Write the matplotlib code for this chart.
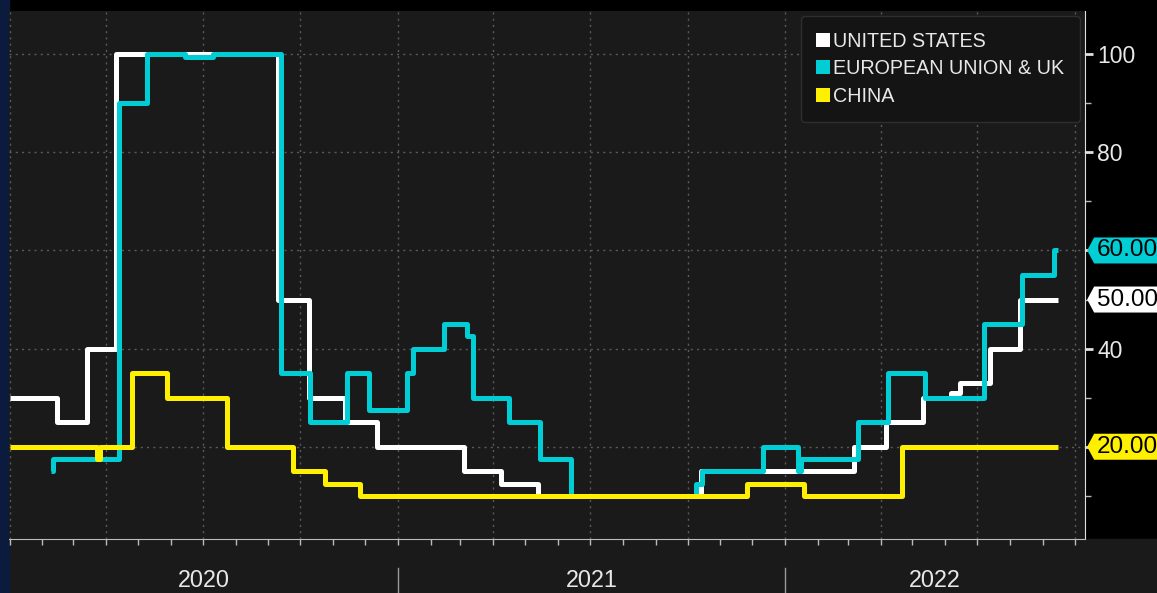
import pandas as pd
import matplotlib
matplotlib.use("Agg")
import matplotlib.pyplot as plt
import matplotlib.dates as mdates
import matplotlib.transforms as mtransforms
from matplotlib.patches import Rectangle, Polygon
from matplotlib.lines import Line2D

# step series (value holds until the next date)
us_dates = ['2020-01-01', '2020-02-15', '2020-03-14', '2020-04-10', '2020-09-10',
            '2020-10-09', '2020-11-12', '2020-12-12', '2021-03-04', '2021-04-08',
            '2021-05-13', '2021-10-14', '2022-03-07', '2022-04-06', '2022-05-11',
            '2022-06-06', '2022-06-15', '2022-07-13', '2022-08-10', '2022-09-15']
us_values = [30, 25, 40, 100, 50, 30, 25, 20, 15, 12.5, 10, 15, 20, 25, 30, 31, 33, 40, 50, 50]

eu_dates = ['2020-02-09', '2020-02-11', '2020-04-13', '2020-05-10', '2020-06-14',
            '2020-07-11', '2020-09-13', '2020-10-10', '2020-11-14', '2020-12-05',
            '2021-01-10', '2021-01-15', '2021-02-13', '2021-03-07', '2021-03-13',
            '2021-04-16', '2021-05-15', '2021-06-13', '2021-10-09', '2021-10-15',
            '2021-12-11', '2022-01-13', '2022-01-16', '2022-03-11', '2022-04-08',
            '2022-05-13', '2022-07-07', '2022-08-12', '2022-09-11', '2022-09-15']
eu_values = [15, 17.5, 90, 100, 99.5, 100, 35, 25, 35, 27.5, 35, 40, 45, 42.5, 30,
             25, 17.5, 10, 12.5, 15, 20, 15, 17.5, 25, 35, 30, 45, 55, 60, 60]

cn_dates = ['2020-01-01', '2020-03-23', '2020-03-26', '2020-04-25', '2020-05-28',
            '2020-07-24', '2020-09-24', '2020-10-24', '2020-11-26', '2021-11-26',
            '2022-01-19', '2022-04-21', '2022-09-15']
cn_values = [20, 17.5, 20, 35, 30, 20, 15, 12.5, 10, 12.5, 10, 20, 20]

series_names = ['UNITED STATES', 'EUROPEAN UNION & UK', 'CHINA']
series_colors = ['#ffffff', '#00cdd4', '#fff000']
last_labels = ['50.00', '60.00', '20.00']
year_labels = ['2020', '2021', '2022']

W, H = 1157, 593
BG = '#1a1a1a'
TXT = '#e8e8e8'
FONT = ['Liberation Sans', 'DejaVu Sans']

fig = plt.figure(figsize=(W / 100, H / 100), dpi=100, facecolor='black')
# bottom band and left navy strip
fig.patches.append(Rectangle((9 / W, 0), 1, 54 / H, transform=fig.transFigure,
                             color=BG, zorder=-2))
fig.patches.append(Rectangle((0, 0), 9 / W, 1, transform=fig.transFigure,
                             color='#0b1b3e', zorder=-2))

ax = fig.add_axes([9 / W, 54 / H, 1076 / W, 528 / H])
ax.set_facecolor(BG)

all_series = [(us_dates, us_values), (eu_dates, eu_values), (cn_dates, cn_values)]
for (d, v), c in zip(all_series, series_colors):
    ax.plot(pd.to_datetime(d), v, drawstyle='steps-post', color=c, lw=3.6,
            solid_joinstyle='round', solid_capstyle='butt', zorder=3)

ax.set_xlim(pd.Timestamp('2019-12-31 12:00'), pd.Timestamp('2022-10-10 14:00'))
ax.set_ylim(1.2, 108.8)

ax.xaxis.set_major_locator(mdates.MonthLocator(bymonth=[1, 4, 7, 10]))
ax.xaxis.set_minor_locator(mdates.MonthLocator())
ax.xaxis.set_major_formatter(plt.NullFormatter())
ax.tick_params(axis='x', which='both', direction='out', length=4, width=1,
               color='#bbbbbb')

ax.yaxis.tick_right()
ax.set_yticks([20, 40, 60, 80, 100])
ax.set_yticklabels(['', '40', '', '80', '100'])
ax.set_yticks([10, 30, 50, 70, 90], minor=True)
ax.tick_params(axis='y', which='major', direction='out', length=6, width=2,
               color='#e0e0e0', labelcolor=TXT, labelsize=16.5, pad=3)
ax.tick_params(axis='y', which='minor', direction='out', length=4, width=1,
               color='#bbbbbb')
for lab in ax.get_yticklabels():
    lab.set_family(FONT)

ax.grid(True, which='major', color='#5a5a5a', ls=(0, (1.5, 3)), lw=1)

for side in ['top', 'left']:
    ax.spines[side].set_visible(False)
ax.spines['bottom'].set_color('#bbbbbb')
ax.spines['right'].set_color('#e0e0e0')

# year labels centred in the visible part of each year
x0, x1 = ax.get_xlim()
bounds = [x0, mdates.date2num(pd.Timestamp('2021-01-01')),
          mdates.date2num(pd.Timestamp('2022-01-01')), x1]
xt = mtransforms.blended_transform_factory(ax.transData, ax.transAxes)
for i, lab in enumerate(year_labels):
    ax.text((bounds[i] + bounds[i + 1]) / 2, -0.0909, lab, transform=xt,
            ha='center', va='baseline', fontsize=16.8, color=TXT, family=FONT,
            clip_on=False)
for b in bounds[1:3]:
    ax.plot([b, b], [-0.055, -0.11], transform=xt, color='#9a9a9a', lw=1,
            clip_on=False)

# last value tags on the right axis
yt = mtransforms.blended_transform_factory(ax.transAxes, ax.transData)
last_vals = [us_values[-1], eu_values[-1], cn_values[-1]]
hh = 13 / 4.905
for v, c, lab in zip(last_vals, series_colors, last_labels):
    poly = Polygon([(1.002, v), (1.0085, v + hh), (1.2, v + hh), (1.2, v - hh),
                    (1.0085, v - hh)], closed=True, transform=yt, facecolor=c,
                   edgecolor='none', clip_on=False, zorder=6)
    ax.add_patch(poly)
    ax.text(1.0112, v, lab, transform=yt, ha='left', va='center', fontsize=17.5,
            color='black', family=FONT, clip_on=False, zorder=7)

handles = [Line2D([], [], marker='s', ls='none', markersize=9.5, color=c,
                  markeredgewidth=0) for c in series_colors]
leg = ax.legend(handles, series_names, loc='upper right',
                bbox_to_anchor=(0.9954, 0.991), frameon=True, fancybox=True,
                borderaxespad=0, borderpad=0.8, handlelength=0.65,
                handletextpad=0.2, labelspacing=0.44,
                prop={'family': FONT, 'size': 14.2})
leg.get_frame().set_facecolor('#141414')
leg.get_frame().set_edgecolor('#2e2e2e')
leg.get_frame().set_alpha(1)
leg.get_frame().set_boxstyle('round', pad=0, rounding_size=0.2)
for t in leg.get_texts():
    t.set_color(TXT)
leg.set_zorder(8)

fig.savefig('out.png', dpi=100, facecolor=fig.get_facecolor())
